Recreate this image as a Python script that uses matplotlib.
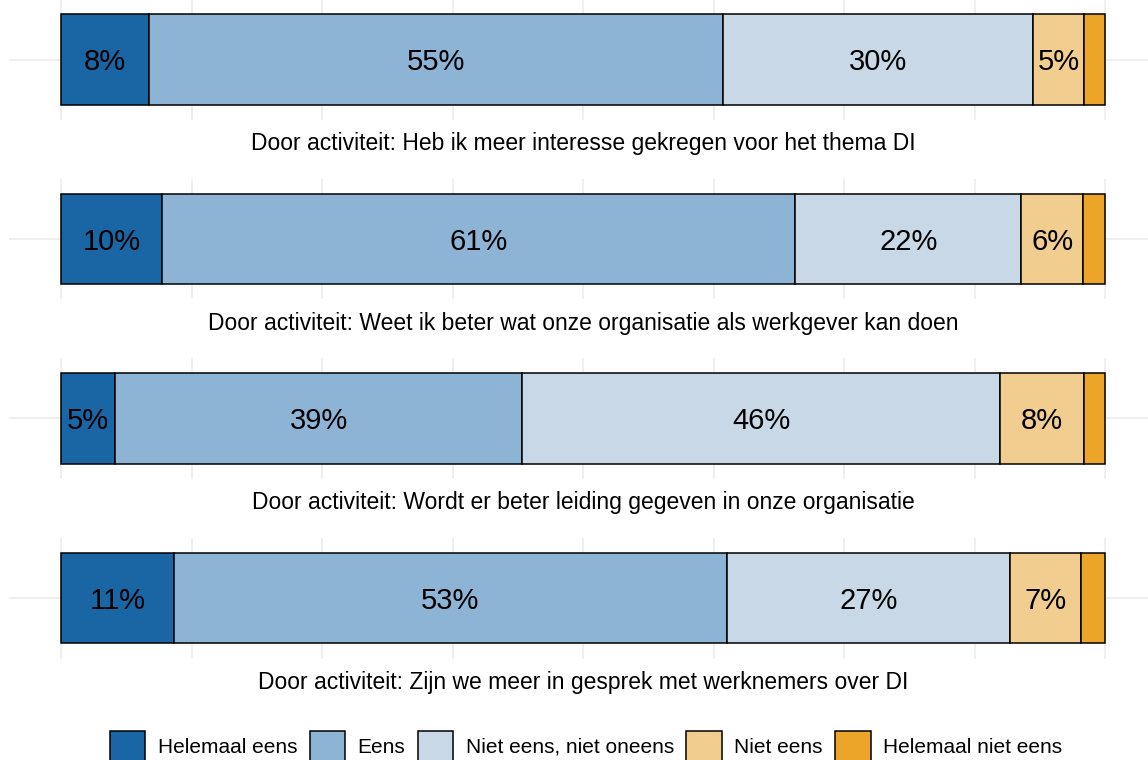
import numpy as np
import matplotlib.pyplot as plt
from matplotlib.patches import Patch

plt.rcParams['font.family'] = ['Liberation Sans', 'DejaVu Sans']

# answer categories and colours
categories = ['Helemaal eens', 'Eens', 'Niet eens, niet oneens', 'Niet eens', 'Helemaal niet eens']
colors = ['#1a65a3', '#8db4d5', '#c8d8e6', '#f2cd90', '#eca429']

statements = [
    'Door activiteit: Heb ik meer interesse gekregen voor het thema DI',
    'Door activiteit: Weet ik beter wat onze organisatie als werkgever kan doen',
    'Door activiteit: Wordt er beter leiding gegeven in onze organisatie',
    'Door activiteit: Zijn we meer in gesprek met werknemers over DI',
]

# percentages per statement, in category order
helemaal_eens = [8.4, 9.7, 5.2, 10.8]
eens = [55.0, 60.6, 39.0, 53.0]
neutraal = [29.7, 21.7, 45.7, 27.1]
niet_eens = [4.9, 5.9, 8.1, 6.8]
helemaal_niet_eens = [2.0, 2.1, 2.0, 2.3]

series = [helemaal_eens, eens, neutraal, niet_eens, helemaal_niet_eens]

W, H = 1148, 760
fig = plt.figure(figsize=(W / 100, H / 100), dpi=100)

x0, x1 = 61, 1105          # pixel positions of 0% and 100%
xmin = (9 - x0) / (x1 - x0)
xmax = (W - x0) / (x1 - x0)
grid_c = '#ebebeb'

for i, stmt in enumerate(statements):
    cy = 59.5 + 179.5 * i      # bar centre in pixels
    ph = 121                   # panel height in pixels
    ax = fig.add_axes([9 / W, 1 - (cy + ph / 2) / H, (W - 9) / W, ph / H])
    ax.set_xlim(xmin, xmax)
    ax.set_ylim(0.4, 1.6)
    for g in np.arange(0, 1.001, 0.125):
        ax.axvline(g, color=grid_c, lw=1.1, zorder=0)
    ax.axhline(1, color=grid_c, lw=1.1, zorder=0)

    left = 0.0
    for s, col in zip(series, colors):
        v = s[i] / 100
        ax.barh(1, v, left=left, height=0.9, color=col, edgecolor='black',
                linewidth=1.1, zorder=2)
        if s[i] >= 3:
            ax.text(left + v / 2, 0.893, f'{round(s[i])}%', ha='center', va='baseline',
                    fontsize=21, color='black', zorder=3)
        left += v

    ax.axis('off')
    fig.text(0.5 * (x0 + x1) / W, 1 - (cy + 84) / H, stmt, ha='center', va='center',
             fontsize=16.5)

handles = [Patch(facecolor=c, edgecolor='black', linewidth=1.1) for c in colors]
fig.legend(handles, categories, loc='center', bbox_to_anchor=(0.5 * (x0 + x1) / W + 3 / W, 1 - 746 / H),
           ncol=5, frameon=False, fontsize=15, handlelength=1.7, handleheight=1.8,
           handletextpad=0.6, columnspacing=0.6, borderaxespad=0)

fig.savefig('out.png', dpi=100)
